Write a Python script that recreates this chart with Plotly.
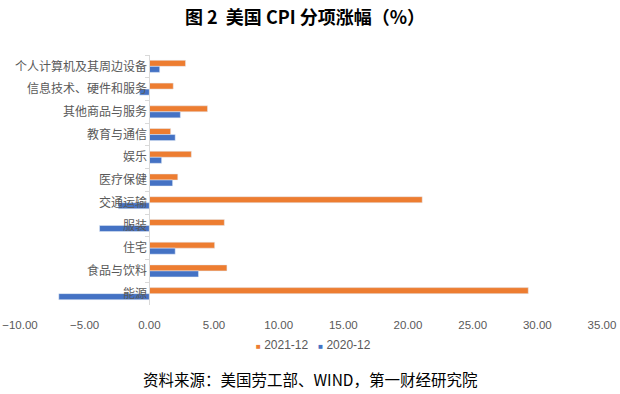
import plotly.graph_objects as go

categories = ["个人计算机及其周边设备", "信息技术、硬件和服务", "其他商品与服务", "教育与通信", "娱乐",
              "医疗保健", "交通运输", "服装", "住宅", "食品与饮料", "能源"]
v2021 = [2.8, 1.85, 4.5, 1.65, 3.25, 2.2, 21.1, 5.8, 5.05, 6.0, 29.3]
v2020 = [0.8, -0.75, 2.4, 2.0, 0.95, 1.8, -2.4, -3.85, 2.0, 3.8, -7.0]
x_ticks = [-10, -5, 0, 5, 10, 15, 20, 25, 30, 35]
series_names = ["2021-12", "2020-12"]
series_colors = ["#ED7D31", "#4472C4"]

fig = go.Figure()
fig.add_trace(go.Bar(y=categories, x=v2021, orientation="h", name=series_names[0],
                     marker_color=series_colors[0]))
fig.add_trace(go.Bar(y=categories, x=v2020, orientation="h", name=series_names[1],
                     marker_color=series_colors[1]))

fig.update_layout(
    width=620, height=394,
    margin=dict(l=19.5, r=18, t=54.6, b=88.6),
    paper_bgcolor="white", plot_bgcolor="white",
    barmode="group", bargap=0.47, bargroupgap=0,
    showlegend=False,
    title=dict(text="<b>图 2  美国 CPI 分项涨幅（%）</b>", x=0.492, xanchor="center", y=0.956, yanchor="middle",
               font=dict(family="Noto Sans CJK SC", size=18, color="black")),
    font=dict(family="Noto Sans CJK SC", color="#595959"),
)
fig.update_xaxes(range=[-10, 35], tickvals=x_ticks, tickformat=".2f", showgrid=False,
                 zeroline=False, showline=False, ticks="outside", ticklen=9,
                 tickcolor="rgba(0,0,0,0)", automargin=False,
                 tickfont=dict(family="Liberation Sans, Noto Sans CJK SC", size=11.5, color="#595959"))
fig.update_yaxes(autorange="reversed", anchor="free", position=10/45, showgrid=False,
                 showline=True, linecolor="#d9d9d9", linewidth=1,
                 ticks="outside", tickson="boundaries", ticklen=4, tickcolor="#d9d9d9",
                 automargin=False,
                 tickfont=dict(family="Noto Sans CJK SC", size=12, color="#595959"))

legend_text = "   ".join(
    f"<span style='color:{c};font-size:8px'>■</span> {n}" for n, c in zip(series_names, series_colors))
fig.add_annotation(text=legend_text, xref="paper", yref="paper",
                   x=0.504, y=-0.158, xanchor="center", yanchor="middle", showarrow=False,
                   font=dict(family="Liberation Sans, DejaVu Sans", size=12, color="#595959"))
fig.add_annotation(text="资料来源：美国劳工部、WIND，第一财经研究院", xref="paper", yref="paper",
                   x=0.4987, y=-0.297, xanchor="center", yanchor="middle", showarrow=False,
                   font=dict(family="Noto Sans CJK SC", size=15.5, color="black"))
fig.write_html("out.html", config={"displayModeBar": False},
               post_script="document.body.style.margin='0';")
